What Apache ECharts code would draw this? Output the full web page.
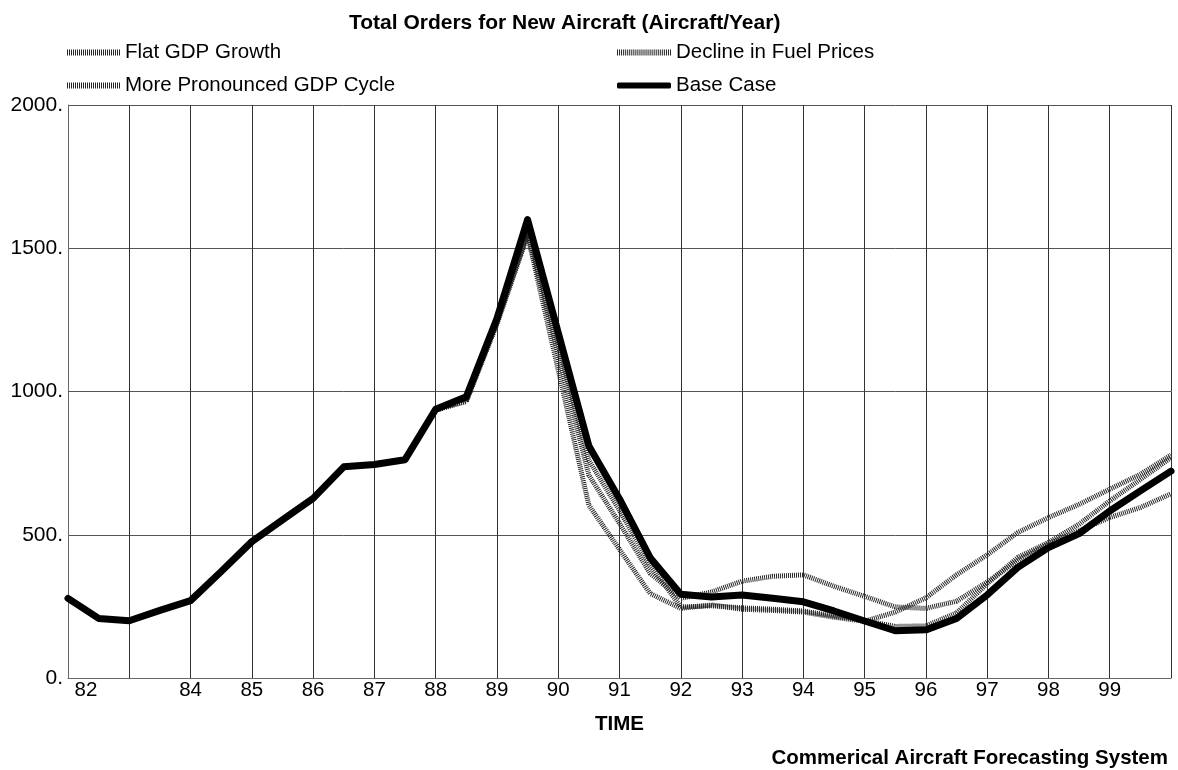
<!DOCTYPE html>
<html>
<head>
<meta charset="utf-8">
<title>Total Orders for New Aircraft</title>
<script src="https://cdn.jsdelivr.net/npm/echarts@6/dist/echarts.min.js"></script>
<style>
  html, body { margin: 0; padding: 0; background: #fff; }
  #chart { width: 1178px; height: 770px; }
</style>
</head>
<body>
<div id="chart"></div>
<script>
// Half-year sample points, 1982 .. 2000
const years = [1982, 1982.5, 1983, 1983.5, 1984, 1984.5, 1985, 1985.5, 1986, 1986.5,
               1987, 1987.5, 1988, 1988.5, 1989, 1989.5, 1990, 1990.5, 1991, 1991.5,
               1992, 1992.5, 1993, 1993.5, 1994, 1994.5, 1995, 1995.5, 1996, 1996.5,
               1997, 1997.5, 1998, 1998.5, 1999, 1999.5, 2000];

// Orders for new aircraft (aircraft / year) per scenario
const flatGdpGrowth = [278, 208, 200, 236, 270, 372, 476, 552, 627, 737,
                       745, 762, 935, 968, 1240, 1550, 1130, 708, 540, 365,
                       278, 300, 338, 355, 360, 320, 285, 248, 243, 268,
                       335, 410, 468, 514, 560, 595, 643];
const fuelPriceDecline = [278, 208, 200, 236, 270, 372, 476, 552, 627, 737,
                          745, 762, 935, 970, 1245, 1555, 1160, 760, 585, 395,
                          248, 252, 245, 240, 234, 216, 201, 180, 182, 227,
                          329, 421, 473, 537, 618, 693, 769];
const pronouncedCycle = [278, 208, 200, 236, 270, 372, 476, 552, 627, 737,
                         745, 762, 935, 965, 1235, 1545, 1075, 603, 449, 295,
                         243, 255, 240, 236, 230, 212, 198, 230, 280, 360,
                         430, 508, 560, 606, 659, 711, 778];
const baseCase = [278, 208, 200, 236, 270, 372, 476, 552, 627, 737,
                  745, 762, 938, 982, 1255, 1600, 1205, 810, 625, 420,
                  292, 283, 290, 278, 266, 234, 199, 165, 168, 208,
                  290, 386, 455, 504, 583, 653, 722];

// Year ticks that carry a label
const labelledYears = [1982, 1984, 1985, 1986, 1987, 1988, 1989, 1990, 1991,
                       1992, 1993, 1994, 1995, 1996, 1997, 1998, 1999];

const FONT = 'Liberation Sans, Arial, sans-serif';
const FS = 20.5;
const pairs = vals => years.map((y, i) => [y, vals[i]]);

const HATCH = '#262626';
const hatched = { color: HATCH, width: 5, type: [1, 1], cap: 'butt', join: 'round' };

// Striped legend swatch: thin vertical bars across a 53x6 box
let stripes = '';
for (let i = 0; i < 27; i++) stripes += 'M' + (2 * i) + ',0h1v6h-1z';
const stripeIcon = 'path://' + stripes;

const chart = echarts.init(document.getElementById('chart'), null, { renderer: 'canvas' });

chart.setOption({
  animation: false,
  backgroundColor: '#fff',
  title: [
    {
      text: 'Total Orders for New Aircraft (Aircraft/Year)',
      left: 344, top: 8,
      textStyle: { fontFamily: FONT, fontSize: 21, fontWeight: 'bold', color: '#000' }
    },
    {
      text: 'Commerical Aircraft Forecasting System',
      right: 10, top: 748,
      padding: 0,
      textStyle: { fontFamily: FONT, fontSize: FS, fontWeight: 'bold', color: '#000' }
    }
  ],
  legend: [
    {
      orient: 'vertical', left: 67, top: 42, padding: 0, itemGap: 12,
      itemWidth: 53, itemHeight: 6, symbolKeepAspect: false,
      textStyle: { fontFamily: FONT, fontSize: FS, color: '#000' },
      data: [
        { name: 'Flat GDP Growth', icon: stripeIcon },
        { name: 'More Pronounced GDP Cycle', icon: stripeIcon }
      ]
    },
    {
      orient: 'vertical', left: 617, top: 42, padding: 0, itemGap: 12,
      itemWidth: 54, itemHeight: 6, symbolKeepAspect: false,
      textStyle: { fontFamily: FONT, fontSize: FS, color: '#000' },
      data: [
        { name: 'Decline in Fuel Prices', icon: stripeIcon },
        { name: 'Base Case', icon: 'roundRect', itemStyle: { color: '#000' } }
      ]
    }
  ],
  grid: { left: 68, right: 7, top: 105, bottom: 92, containLabel: false },
  xAxis: {
    type: 'value', min: 1982, max: 2000, interval: 1,
    name: 'TIME', nameLocation: 'middle', nameGap: 36,
    nameTextStyle: { fontFamily: FONT, fontSize: FS, fontWeight: 'bold', color: '#000' },
    axisLine: { show: true, lineStyle: { color: '#666', width: 1 } },
    axisTick: { show: false },
    splitLine: { show: true, lineStyle: { color: '#333', width: 1 } },
    axisLabel: {
      margin: 2, color: '#000', fontFamily: FONT, fontSize: FS,
      formatter: v => {
        if (!labelledYears.includes(v)) return '';
        const s = String(v).slice(2);
        return v === 1982 ? '{first|' + s + '}' : s;
      },
      rich: { first: { padding: [0, 0, 0, 36], fontFamily: FONT, fontSize: FS, color: '#000' } }
    }
  },
  yAxis: {
    type: 'value', min: 0, max: 2000, interval: 500,
    axisLine: { show: true, lineStyle: { color: '#666', width: 1 } },
    axisTick: { show: false },
    splitLine: { show: true, lineStyle: { color: '#555', width: 1 } },
    axisLabel: {
      margin: 5, color: '#000', fontFamily: FONT, fontSize: 21,
      padding: [0, 0, 4, 0],
      formatter: v => v + '.'
    }
  },
  series: [
    { name: 'Flat GDP Growth', type: 'line', data: pairs(flatGdpGrowth),
      symbol: 'none', itemStyle: { color: HATCH }, lineStyle: hatched, z: 2 },
    { name: 'Decline in Fuel Prices', type: 'line', data: pairs(fuelPriceDecline),
      symbol: 'none', itemStyle: { color: HATCH }, lineStyle: hatched, z: 2 },
    { name: 'More Pronounced GDP Cycle', type: 'line', data: pairs(pronouncedCycle),
      symbol: 'none', itemStyle: { color: HATCH }, lineStyle: hatched, z: 2 },
    { name: 'Base Case', type: 'line', data: pairs(baseCase),
      symbol: 'none', z: 3, itemStyle: { color: '#000' },
      lineStyle: { color: '#000', width: 7, cap: 'round', join: 'round' } }
  ]
});
</script>
</body>
</html>
